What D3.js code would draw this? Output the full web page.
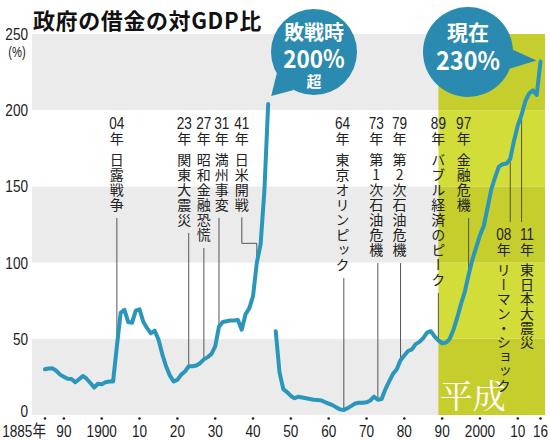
<!DOCTYPE html>
<html>
<head>
<meta charset="utf-8">
<script src="https://cdn.jsdelivr.net/npm/d3@7"></script>
<style>
  body { margin: 0; background: #fff; }
  svg { display: block; }
  .vtext { writing-mode: vertical-rl; text-orientation: upright; }
</style>
</head>
<body>
<div id="chart"></div>
<script>
// 政府の借金の対GDP比 (%), 1885-2016, 1945 is missing
const years = d3.range(1885, 2017);
const debtRatio = [
  30, 30.5, 30.6, 29, 26.5,
  25, 23.8, 23.6, 21.5, 23.5, 25.6, 23.8, 21, 18, 20.5,
  20.2, 21.5, 22, 22, 45, 67, 69, 61, 60.5, 68.5,
  69.3, 61, 57, 53.6, 55.3, 49.5, 40, 32, 26, 22,
  23, 26.5, 28.5, 32, 32, 32.5, 34, 36.5, 38, 40,
  45, 58, 61, 61.5, 62, 62, 62.3, 56, 66, 70,
  78, 100, 112, 147, 204, null, 55, 28, 17, 15,
  12.5, 11, 12, 11.5, 11, 10.5, 10, 9.8, 9.6, 8.5,
  7.5, 6.5, 5, 3.7, 3.3, 4.5, 6, 7.5, 8, 8,
  8.3, 9.5, 12, 10, 10.5, 17, 22, 27, 30, 36,
  39, 42, 43, 46.5, 48, 50.5, 54, 55, 51.5, 49,
  47, 47.5, 50, 56, 64, 73, 81, 92, 102, 110,
  118, 124, 136, 148, 156, 163, 164.5, 165, 168, 180,
  190, 197, 206, 211, 213, 210, 232
];

const yTicks = [0, 50, 100, 150, 200, 250];
const xTickYears = [1885, 1890, 1900, 1910, 1920, 1930, 1940, 1950, 1960, 1970, 1980, 1990, 2000, 2010, 2016];
const xTickLabels = ['1885年', '90', '1900', '10', '20', '30', '40', '50', '60', '70', '80', '90', '2000', '10', '16'];

const eventYears = [1904, 1923, 1927, 1931, 1941, 1964, 1973, 1979, 1989, 1997, 2008, 2011];
const eventNums = ['04', '23', '27', '31', '41', '64', '73', '79', '89', '97', '08', '11'];
const eventTexts = ['日露戦争', '関東大震災', '昭和金融恐慌', '満州事変', '日米開戦', '東京オリンピック',
  '第1次石油危機', '第2次石油危機', 'バブル経済のピーク', '金融危機', 'リーマン・ショック', '東日本大震災'];

const heiseiStart = 1989;

// label layout: horizontal shift of the text column from its leader line, and where it sits
const eventLayout = [
  { dx: 0, pos: 'top' }, { dx: -4.5, pos: 'top' }, { dx: 0, pos: 'top' }, { dx: 2.7, pos: 'top' },
  { dx: -15, pos: 'top', elbow: true }, { dx: -1.3, pos: 'top' }, { dx: -1.6, pos: 'top' }, { dx: -1, pos: 'top' },
  { dx: 0, pos: 'top' }, { dx: -5, pos: 'top' }, { dx: -6.5, pos: 'bottom' }, { dx: 5.5, pos: 'bottom' }
];

const width = 550, height = 440;
const plotLeft = 32, plotRight = 545;
const jpFont = "'Noto Sans CJK JP', sans-serif";
const numFont = "'Liberation Sans', 'Noto Sans CJK JP', sans-serif";
const lineColor = '#2a96bb';
const bubbleColor = '#2a8ab0';

const svg = d3.select('#chart').append('svg')
  .attr('width', width)
  .attr('height', height)
  .attr('viewBox', `0 0 ${width} ${height}`);

const x = d3.scaleLinear().domain([1885, 2016]).range([45, 540.5]);
const y = d3.scaleLinear().domain([0, 250]).range([415, 34]);

const valueAt = (yr) => debtRatio[years.indexOf(yr)];

// condensed numerals: squeeze horizontally around the anchor point
function numText(g, str, tx, ty, anchor, size) {
  return g.append('text')
    .attr('transform', `translate(${tx},${ty}) scale(0.8,1)`)
    .attr('text-anchor', anchor)
    .attr('font-family', numFont)
    .attr('font-size', size)
    .attr('fill', '#222')
    .text(str);
}

// alternating bands
const bands = d3.pairs(yTicks);
svg.append('g').selectAll('rect')
  .data(bands)
  .join('rect')
  .attr('x', plotLeft)
  .attr('width', plotRight - plotLeft)
  .attr('y', d => y(d[1]))
  .attr('height', d => y(d[0]) - y(d[1]))
  .attr('fill', (d, i) => i % 2 === 0 ? '#ebebeb' : '#ffffff');

// 平成 band
svg.append('g').selectAll('rect')
  .data(bands)
  .join('rect')
  .attr('x', x(heiseiStart))
  .attr('width', plotRight - x(heiseiStart))
  .attr('y', d => y(d[1]))
  .attr('height', d => y(d[0]) - y(d[1]))
  .attr('fill', (d, i) => i % 2 === 0 ? '#c6ce2e' : '#d3dd3a');

svg.append('text')
  .attr('x', (x(heiseiStart) + plotRight) / 2 - 19)
  .attr('y', 408)
  .attr('text-anchor', 'middle')
  .attr('font-family', "'Noto Serif CJK JP', 'Noto Sans CJK JP', serif")
  .attr('font-size', 33)
  .attr('fill', '#fff')
  .text('平成');

// y axis labels (the 0 sits a little higher, clear of the year row)
const yAxisG = svg.append('g');
yTicks.forEach(v => numText(yAxisG, v, 28, y(v) + (v === 0 ? 2 : 6), 'end', 17));
numText(yAxisG, '(%)', 17, 57, 'middle', 14);

// x axis dots and labels
svg.append('g').selectAll('circle')
  .data(xTickYears)
  .join('circle')
  .attr('cx', d => x(d))
  .attr('cy', 418.5)
  .attr('r', 1.3)
  .attr('fill', '#222');

const xAxisG = svg.append('g');
xTickYears.forEach((yr, i) => {
  numText(xAxisG, xTickLabels[i], i === 0 ? x(yr) + 1 : x(yr), 437, i === 0 ? 'end' : 'middle', 17);
});

// event labels and leader lines
const leaderG = svg.append('g')
  .attr('stroke', '#444')
  .attr('stroke-width', 0.9)
  .attr('fill', 'none');
const labelG = svg.append('g');

eventYears.forEach((yr, i) => {
  const lay = eventLayout[i];
  const lx = x(yr);
  const tx = lx + lay.dx;
  const top = lay.pos === 'top';
  const numBase = top ? 128.5 : 240;
  numText(labelG, eventNums[i], tx, numBase, 'middle', 17);
  labelG.append('text')
    .attr('x', tx).attr('y', numBase + 15)
    .attr('text-anchor', 'middle')
    .attr('font-family', jpFont)
    .attr('font-size', 14)
    .attr('fill', '#222')
    .text('年');
  const vt = labelG.append('text')
    .attr('class', 'vtext')
    .attr('x', tx)
    .attr('y', numBase + (top ? 24.5 : 23))
    .attr('font-family', jpFont)
    .attr('font-size', 14)
    .attr('letter-spacing', top ? 1 : 0.4)
    .attr('fill', '#222')
    .text(eventTexts[i]);
  const bb = vt.node().getBBox();
  const end = bb.y + bb.height;
  const vy = y(valueAt(yr));

  if (!top) {
    leaderG.append('path').attr('d', `M${lx},${vy}V${numBase - 18}`);
  } else if (lay.elbow) {
    const bend = end + 30;
    leaderG.append('path').attr('d', `M${tx},${end + 4}V${bend}H${lx}V${vy}`);
  } else {
    leaderG.append('path').attr('d', `M${lx},${end + 5}V${vy}`);
  }
});

// debt line
const line = d3.line()
  .defined(d => d[1] != null)
  .x(d => x(d[0]))
  .y(d => y(d[1]));

svg.append('path')
  .datum(years.map((yr, i) => [yr, debtRatio[i]]))
  .attr('d', line)
  .attr('fill', 'none')
  .attr('stroke', lineColor)
  .attr('stroke-width', 4)
  .attr('stroke-linejoin', 'round')
  .attr('stroke-linecap', 'round');

// title
svg.append('text')
  .attr('x', 33)
  .attr('y', 29)
  .attr('font-family', jpFont)
  .attr('font-weight', 'bold')
  .attr('font-size', 22)
  .attr('letter-spacing', 0.6)
  .attr('fill', '#111')
  .text('政府の借金の対GDP比');

// callout bubbles
function bubble(cx, cy, r, a1, a2, tip, lines) {
  const g = svg.append('g');
  const rad = Math.PI / 180;
  const p1 = [cx + r * Math.cos(a1 * rad), cy + r * Math.sin(a1 * rad)];
  const p2 = [cx + r * Math.cos(a2 * rad), cy + r * Math.sin(a2 * rad)];
  g.append('path')
    .attr('d', `M${p1[0]},${p1[1]}L${tip[0]},${tip[1]}L${p2[0]},${p2[1]}Z`)
    .attr('fill', bubbleColor);
  g.append('circle')
    .attr('cx', cx).attr('cy', cy).attr('r', r)
    .attr('fill', bubbleColor);
  lines.forEach(l => {
    g.append('text')
      .attr('transform', `translate(${cx},${l.y}) scale(${l.sx || 1},1)`)
      .attr('text-anchor', 'middle')
      .attr('font-family', jpFont)
      .attr('font-weight', 'bold')
      .attr('font-size', l.size)
      .attr('fill', '#fff')
      .text(l.text);
  });
}

const peakYear = 1944, nowYear = 2016;
bubble(314, 52, 43, 118, 150, [x(peakYear) + 3, y(valueAt(peakYear)) - 8], [
  { text: '敗戦時', y: 40, size: 20 },
  { text: '200%', y: 68, size: 25, sx: 0.9 },
  { text: '超', y: 87, size: 15 }
]);
bubble(468, 52, 45, -3, 22, [x(nowYear) - 4, y(valueAt(nowYear)) - 1], [
  { text: '現在', y: 40, size: 21 },
  { text: '230%', y: 70, size: 26, sx: 0.9 }
]);
</script>
</body>
</html>
